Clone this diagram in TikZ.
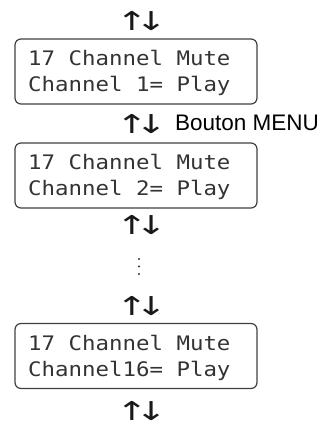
\documentclass[tikz,border=0pt]{standalone}
\usepackage{fontspec}
\setmainfont{Liberation Sans}
\newfontfamily\lcdfont[FakeStretch=1.12]{DejaVu Sans Mono}
\newfontfamily\arrowfont[FakeStretch=1.45]{DejaVu Sans}
\newcommand{\updownsym}{↑\kern-12.5pt↓}
\begin{document}
\begin{tikzpicture}[x=1pt,y=-1pt,
  lcdbox/.style={draw=black!75, line width=1.2pt, rounded corners=6pt,
    minimum width=242pt, minimum height=65pt, inner sep=0pt},
  lcdtext/.style={anchor=base west, inner sep=0pt, text=black!80,
    font=\lcdfont\fontsize{20}{24}\selectfont},
  updown/.style={inner sep=0pt, text=black!90,
    font=\arrowfont\fontsize{26}{28}\selectfont},
  label/.style={anchor=base west, inner sep=0pt, text=black,
    font=\fontsize{22.5}{26}\selectfont}]
\useasboundingbox (0,0) rectangle (331,423);

\node[updown] (a1) at (141.5,21) {\updownsym};

\node[lcdbox] (b1) at (136,71.5) {};
\node[lcdtext] (t1a) at (28,65.7) {17 Channel Mute};
\node[lcdtext] (t1b) at (28,91.7) {Channel 1= Play};

\node[updown] (a2) at (141.5,124) {\updownsym};
\node[label] (menu) at (175,130) {Bouton MENU};

\node[lcdbox] (b2) at (136,175.5) {};
\node[lcdtext] (t2a) at (28,169.7) {17 Channel Mute};
\node[lcdtext] (t2b) at (28,195.7) {Channel 2= Play};

\node[updown] (a3) at (141.5,225) {\updownsym};

\fill[black!80] (139,259) circle (1.1pt) (139,266.5) circle (1.1pt) (139,274) circle (1.1pt);

\node[updown] (a4) at (141.5,306.5) {\updownsym};

\node[lcdbox] (b3) at (136,356) {};
\node[lcdtext] (t3a) at (28,350.2) {17 Channel Mute};
\node[lcdtext] (t3b) at (28,376.2) {Channel16= Play};

\node[updown] (a5) at (141.5,411) {\updownsym};
\end{tikzpicture}
\end{document}
